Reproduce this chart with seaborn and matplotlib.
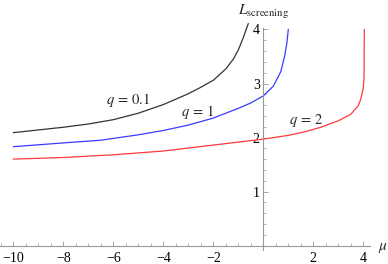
import numpy as np
import pandas as pd
import matplotlib
matplotlib.use("Agg")
import matplotlib.pyplot as plt
from matplotlib.ticker import MultipleLocator, FixedLocator
import seaborn as sns

# ---- data ----
mu_q01 = [-10, -9, -8, -7, -6, -5, -4, -3, -2.5, -2, -1.5, -1.2, -1.0, -0.8, -0.6]
L_q01 = [2.09, 2.14, 2.19, 2.25, 2.33, 2.45, 2.61, 2.81, 2.93, 3.06, 3.27, 3.45, 3.62, 3.85, 4.11]

mu_q1 = [-10, -8, -6.5, -5, -4, -3, -2, -1, -0.5, 0, 0.4, 0.7, 0.85, 0.94, 1.0]
L_q1 = [1.83, 1.90, 1.95, 2.05, 2.13, 2.23, 2.36, 2.54, 2.64, 2.77, 2.95, 3.22, 3.50, 3.74, 4.0]

mu_q2 = [-10, -8, -6, -4, -2, 0, 1, 1.7, 2.3, 3.0, 3.5, 3.8, 3.9, 4.0, 4.03, 4.04]
L_q2 = [1.60, 1.63, 1.68, 1.75, 1.86, 1.97, 2.04, 2.11, 2.19, 2.31, 2.43, 2.59, 2.71, 2.92, 3.10, 4.0]

series_names = ["q=0.1", "q=1", "q=2"]
series_labels = [r"$q\,=\,0.1$", r"$q\,=\,1$", r"$q\,=\,2$"]
x_ticks = [-10, -8, -6, -4, -2, 2, 4]
y_ticks = [1, 2, 3, 4]

df = pd.concat([
    pd.DataFrame({"mu": mu_q01, "L": L_q01, "q": series_names[0]}),
    pd.DataFrame({"mu": mu_q1, "L": L_q1, "q": series_names[1]}),
    pd.DataFrame({"mu": mu_q2, "L": L_q2, "q": series_names[2]}),
], ignore_index=True)

sns.set_theme(style="white")
plt.rcParams["font.family"] = ["Liberation Serif", "DejaVu Serif"]
plt.rcParams["mathtext.fontset"] = "stix"

fig = plt.figure(figsize=(3.88, 2.64), dpi=100)
ax = fig.add_axes([0.0, 0.0515, 370 / 388, 0.8409])

palette = {"q=0.1": "#333333", "q=1": "#3a3aff", "q=2": "#ff3a3a"}
sns.lineplot(data=df, x="mu", y="L", hue="q", palette=palette, sort=False,
             estimator=None, linewidth=0.9, legend=False, ax=ax)
for ln in ax.lines:
    ln.set_clip_on(False)

ax.set_xlim(-10.532, 4.268)
ax.set_ylim(-0.09, 4.02)

for s in ["top", "right"]:
    ax.spines[s].set_visible(False)
ax.spines["left"].set_position(("data", 0))
ax.spines["bottom"].set_position(("data", 0))
for s in ["left", "bottom"]:
    ax.spines[s].set_color("#999999")
    ax.spines[s].set_linewidth(0.8)

ax.xaxis.set_major_locator(FixedLocator(x_ticks))
ax.xaxis.set_minor_locator(MultipleLocator(0.5))
ax.yaxis.set_major_locator(FixedLocator(y_ticks))
ax.yaxis.set_minor_locator(MultipleLocator(0.2))
ax.set_xticklabels([f"\u2212{abs(t)}" if t < 0 else str(t) for t in x_ticks])
ax.set_yticklabels([str(t) for t in y_ticks])
ax.tick_params(axis="both", which="major", direction="in", length=3.5, width=0.6,
               color="#999999", labelsize=10, labelcolor="black")
ax.tick_params(axis="both", which="minor", direction="in", length=2, width=0.5,
               color="#999999")
ax.tick_params(axis="x", which="major", pad=4.5)
ax.tick_params(axis="y", which="major", pad=2.5)
ax.tick_params(axis="both", which="both", bottom=True, left=True)
ax.set_xlabel("")
ax.set_ylabel("")
ax.grid(False)

ax.text(-5.4, 2.69, series_labels[0], fontsize=10.5, ha="center", va="center")
ax.text(-2.63, 2.48, series_labels[1], fontsize=10.5, ha="center", va="center")
ax.text(1.71, 2.32, series_labels[2], fontsize=10.5, ha="center", va="center")

ax.text(0.0, 4.32, r"$L_{\mathrm{screening}}$", fontsize=11, ha="center",
        va="center", clip_on=False)
ax.text(4.77, -0.04, r"$\mu$", fontsize=11, ha="center", va="center",
        clip_on=False)

fig.savefig("out.png", dpi=100)
